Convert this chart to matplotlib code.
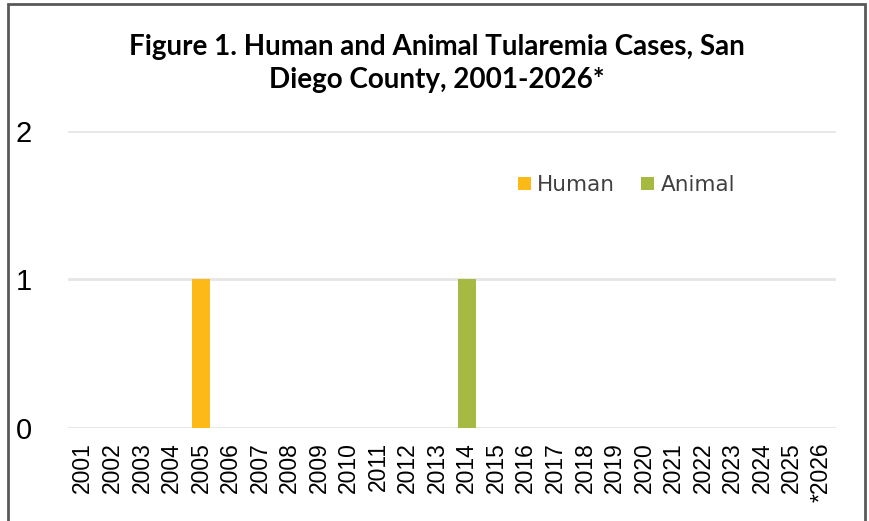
import matplotlib.pyplot as plt
from matplotlib.patches import Rectangle
import numpy as np

years = [str(y) for y in range(2001, 2026)] + ["*2026"]
human = [0, 0, 0, 0, 1, 0, 0, 0, 0, 0, 0, 0, 0, 0, 0, 0, 0, 0, 0, 0, 0, 0, 0, 0, 0, 0]
animal = [0, 0, 0, 0, 0, 0, 0, 0, 0, 0, 0, 0, 0, 1, 0, 0, 0, 0, 0, 0, 0, 0, 0, 0, 0, 0]
y_ticks = [0, 1, 2]

fig = plt.figure(figsize=(8.69, 5.21), dpi=100)
ax = fig.add_axes([0.0783, 0.1785, 0.8837, 0.5701])

x = np.arange(len(years))
ax.bar(x, human, width=0.61, color="#FDB917", label="Human", zorder=3)
ax.bar(x, animal, width=0.61, color="#A5B943", label="Animal", zorder=3)

ax.set_xlim(-0.5, len(years) - 0.5)
ax.set_ylim(0, 2)
ax.set_yticks(y_ticks)
ax.set_yticklabels([str(v) for v in y_ticks], fontsize=21, family="Liberation Sans")
ax.set_xticks(x)
ax.set_xticklabels(years, rotation=90, fontsize=16.5, family="Liberation Sans")
ax.tick_params(axis="both", length=0)
ax.tick_params(axis="y", pad=26)
ax.tick_params(axis="x", pad=10)

for v in y_ticks:
    ax.axhline(v, color="#e6e6e6", lw=2, zorder=1)
for s in ax.spines.values():
    s.set_visible(False)

fig.text(0.503, 0.91, "Figure 1. Human and Animal Tularemia Cases, San",
         ha="center", va="center", fontsize=20, fontweight="bold", family="Lato")
fig.text(0.503, 0.847, "Diego County, 2001-2026*",
         ha="center", va="center", fontsize=20, fontweight="bold", family="Lato")

ax.legend(loc="center", bbox_to_anchor=(0.727, 0.818), ncol=2, frameon=False,
          fontsize=15.5, handlelength=0.6, handleheight=0.6, handletextpad=0.3,
          columnspacing=1.2, labelcolor="#404040")

# outer chart border
fig.patches.append(Rectangle((8 / 869, -0.02), 857 / 869, 1.012, transform=fig.transFigure,
                             fill=False, edgecolor="#595959", lw=2))

fig.savefig("out.png", dpi=100, facecolor="white")
